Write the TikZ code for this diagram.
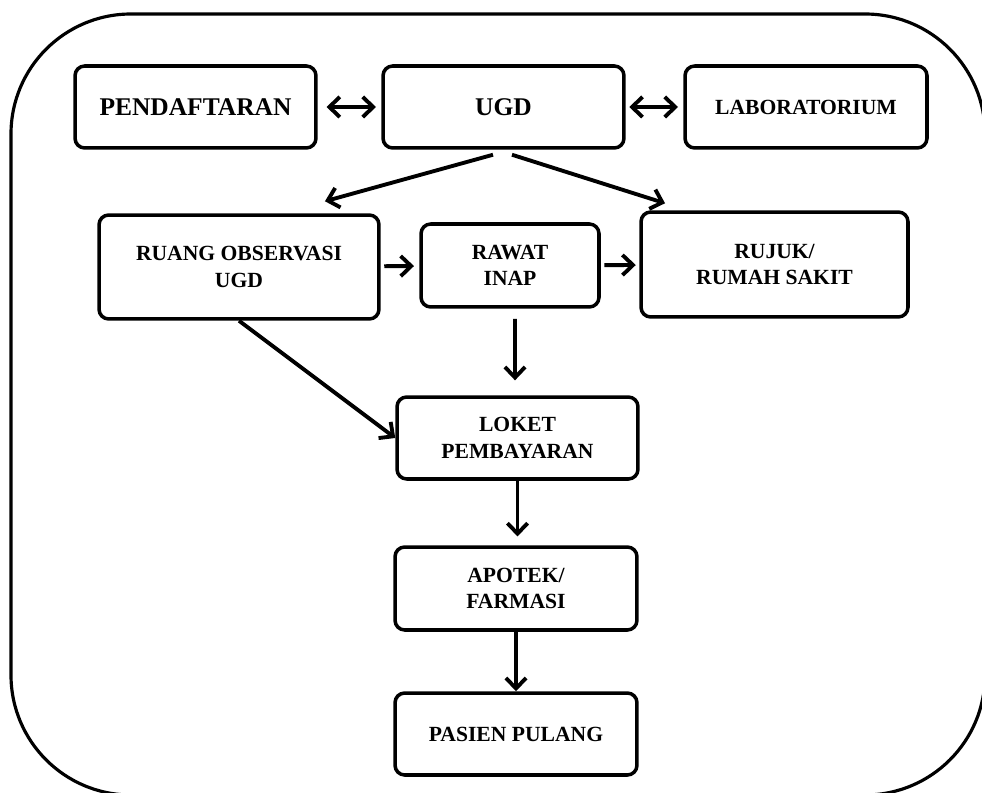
\documentclass[tikz,border=0pt]{standalone}
\usepackage{fontspec}
\setmainfont{Liberation Serif}
\usetikzlibrary{arrows.meta}

\begin{document}
\begin{tikzpicture}[x=0.02cm,y=-0.02cm]
    \tikzset{box/.style={draw, line width=2pt, rounded corners=5.5pt, align=center, inner sep=0pt,
            minimum width=4.82cm, minimum height=1.64cm, font=\bfseries\fontsize{12.3}{15}\selectfont},
        bigbox/.style={box, font=\bfseries\fontsize{14.5}{17}\selectfont},
        panah/.style={line width=2.2pt, -{Straight Barb[length=6pt,width=11.5pt]}},
        panahdua/.style={line width=2.2pt, {Straight Barb[length=6pt,width=11.5pt]}-{Straight Barb[length=6pt,width=11.5pt]}}}
    \useasboundingbox (0,0) rectangle (982,793);
    %Bingkai
    \begin{scope}
        \clip (0,0) rectangle (982,793);
        \draw[line width=1.8pt, rounded corners=2.4cm] (11,14) rectangle (985,795);
    \end{scope}

    %Baris atas
    \node[bigbox] (daftar) at (195.5,107) {PENDAFTARAN};
    \node[bigbox] (ugd)    at (503.5,107) {UGD};
    \node[box, minimum width=4.84cm] (lab) at (806,107) {LABORATORIUM};
    \draw[panahdua] ([xshift=5pt]daftar.east) -- ([xshift=-3pt]ugd.west);
    \draw[panahdua] ([xshift=2pt]ugd.east) -- ([xshift=-3pt]lab.west);

    %Baris tengah
    \node[box, minimum width=5.6cm, minimum height=2.08cm] (observasi) at (239,267) {RUANG OBSERVASI\\UGD};
    \node[box, minimum width=3.56cm, minimum height=1.66cm] (rawat) at (510,265.5) {RAWAT\\INAP};
    \node[box, minimum width=5.34cm, minimum height=2.1cm] (rujuk) at (774.5,264.5) {RUJUK/\\RUMAH SAKIT};
    \draw[panah] ([xshift=-0.21cm,yshift=-0.1cm]ugd.south) -- ([xshift=1.72cm,yshift=0.24cm]observasi.north);
    \draw[panah] ([xshift=0.17cm,yshift=-0.1cm]ugd.south) -- ([xshift=-2.19cm,yshift=0.14cm]rujuk.north);
    \draw[panah, shorten <=2pt, shorten >=3pt] (observasi) -- (rawat);
    \draw[panah, shorten <=2pt, shorten >=2pt] (rawat) -- (rujuk);

    %Kolom bawah
    \node[box] (loket)  at (517.5,438) {LOKET\\PEMBAYARAN};
    \node[box, minimum width=4.84cm, minimum height=1.66cm] (apotek) at (516,588.5) {APOTEK/\\FARMASI};
    \node[box, minimum width=4.84cm] (pulang) at (516,734) {PASIEN PULANG};
    \draw[panah, shorten <=5.7pt, shorten >=8.5pt] ([xshift=0.1cm]rawat.south) -- ([xshift=-0.05cm]loket.north);
    \draw[panah] (observasi.south) -- (loket.west);
    \draw[panah, shorten >=5pt] (loket.south) -- (loket.south |- apotek.north);
    \draw[panah] (apotek.south) -- (apotek.south |- pulang.north);
\end{tikzpicture}
\end{document}
